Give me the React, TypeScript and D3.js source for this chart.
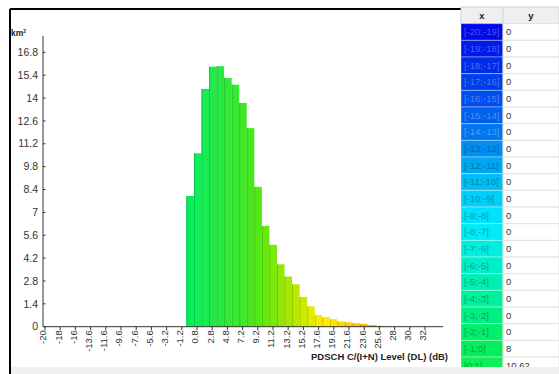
import * as d3 from "d3";

// bins are 1 dB wide, [start; start+1]
const binStarts = d3.range(-20, 33);
const binValues = [
  0, 0, 0, 0, 0, 0, 0, 0, 0, 0, 0, 0, 0, 0, 0, 0, 0, 0, 0,
  8, 10.62, 14.56, 15.92, 15.95, 15.23, 14.82, 13.7, 12.16, 8.56,
  6.17, 5.01, 3.82, 3.07, 2.6, 1.82, 1.25, 0.72, 0.58, 0.46,
  0.32, 0.27, 0.21, 0.17, 0.1, 0.06, 0.04,
  0, 0, 0, 0, 0, 0, 0,
];
const xTickLabels = [
  "-20", "-18", "-16", "-13.6", "-11.6", "-9.6", "-7.6", "-5.6", "-3.2", "-1.2",
  "0.8", "2.8", "4.8", "7.2", "9.2", "11.2", "13.2", "15.2", "17.6", "19.6",
  "21.6", "23.6", "25.6", "28", "30", "32",
];
const yTicks = [0, 1.4, 2.8, 4.2, 5.6, 7, 8.4, 9.8, 11.2, 12.6, 14, 15.4, 16.8];
const yMax = 17.8;
const tableRows = 21;

const colorStops = [-20, -14, -11, -8, -5, -1, 2, 8, 12, 17, 21, 25, 33];
const colorRange = [
  "#0000e6", "#0068ee", "#00b4f4", "#00eaff", "#00f0c0", "#00f060", "#1eea50",
  "#48ea18", "#9ae800", "#ffee00", "#ffcc00", "#ff9900", "#ff3300",
];

const W = 559;
const H = 374;
const M = { left: 43, right: 443, top: 36, axis: 326.7 };
const TABLE = { x: 461, split: 503, right: 559, top: 7, rowH: 16.67 };

const fmt = (v: number) => (v === 0 ? "0" : String(v));

export default function App() {
  const x = d3.scaleLinear().domain([-20, 33]).range([M.left, M.right]);
  const xt = d3.scalePoint<string>().domain(xTickLabels).range([M.left, M.left + 380]);
  const y = d3.scaleLinear().domain([0, yMax]).range([M.axis, M.top]);
  const color = d3
    .scaleLinear<string>()
    .domain(colorStops)
    .range(colorRange)
    .interpolate(d3.interpolateRgb);

  const bars = binStarts.map((s, i) => ({ s, v: binValues[i] })).filter((d) => d.v > 0);
  const rows = binStarts.slice(0, tableRows).map((s, i) => ({ s, v: binValues[i] }));

  // cell text is a shade of the cell colour: lighter on dark blue, darker on bright cells
  const textColor = (c: string) =>
    d3.lab(c).l < 50 ? d3.interpolateRgb(c, "#ffffff")(0.3) : d3.interpolateRgb(c, "#000000")(0.3);

  return (
    <svg
      width={W}
      height={H}
      style={{ position: "absolute", left: 0, top: 0, background: "#fff" }}
      fontFamily="'Liberation Sans', Arial, sans-serif"
    >
      {/* frame */}
      <line x1={10} x2={W} y1={9} y2={9} stroke="#000" strokeWidth={2} />
      <line x1={10} x2={10} y1={9} y2={H} stroke="#000" strokeWidth={2} />

      {/* y axis */}
      <text x={11} y={36} fontSize={8.5} fontWeight="bold" fill="#222">
        km<tspan dy={-3} fontSize={5}>2</tspan>
      </text>
      <line x1={M.left} x2={M.left} y1={M.top} y2={M.axis} stroke="#333" />
      {yTicks.map((t) => (
        <g key={t}>
          <line x1={M.left} x2={M.left + 2.5} y1={y(t)} y2={y(t)} stroke="#333" />
          <text x={38} y={y(t)} dy="0.35em" textAnchor="end" fontSize={10.5} fill="#333">
            {fmt(t)}
          </text>
        </g>
      ))}

      {/* bars */}
      {bars.map((d) => {
        const c = color(d.s + 0.5);
        const x0 = x(d.s);
        const w = x(d.s + 1) - x0;
        return (
          <g key={d.s}>
            <rect x={x0} y={y(d.v)} width={w} height={M.axis - y(d.v)} fill={c} />
            <rect x={x0} y={y(d.v)} width={1} height={M.axis - y(d.v)} fill={d3.rgb(c).darker(0.5).formatHex()} />
          </g>
        );
      })}

      {/* x axis */}
      <line x1={M.left} x2={M.right} y1={M.axis} y2={M.axis} stroke="#333" />
      {xTickLabels.map((t) => {
        const px = xt(t)!;
        return (
          <g key={t}>
            <line x1={px + 2} x2={px + 2} y1={M.axis} y2={M.axis + 3.5} stroke="#333" />
            <text
              transform={`translate(${px},${M.axis + 3.5}) rotate(-90)`}
              dy="0.35em"
              textAnchor="end"
              fontSize={9.5}
              fill="#333"
            >
              {t}
            </text>
          </g>
        );
      })}
      <text x={448} y={360} textAnchor="end" fontSize={9.5} fontWeight="bold" fill="#222">
        PDSCH C/(I+N) Level (DL) (dB)
      </text>

      {/* table */}
      <rect x={TABLE.x} y={TABLE.top} width={TABLE.right - TABLE.x} height={TABLE.rowH} fill="#efefef" stroke="#cfcfcf" />
      <line x1={TABLE.split} x2={TABLE.split} y1={TABLE.top} y2={TABLE.top + TABLE.rowH} stroke="#cfcfcf" />
      <text x={(TABLE.x + TABLE.split) / 2} y={TABLE.top + TABLE.rowH / 2} dy="0.35em" textAnchor="middle" fontSize={9.5} fontWeight="bold" fill="#222">
        x
      </text>
      <text x={(TABLE.split + TABLE.right) / 2} y={TABLE.top + TABLE.rowH / 2} dy="0.35em" textAnchor="middle" fontSize={9.5} fontWeight="bold" fill="#222">
        y
      </text>
      {rows.map((r, i) => {
        const top = TABLE.top + TABLE.rowH * (i + 1);
        const c = color(r.s + 0.5);
        return (
          <g key={r.s}>
            <rect x={TABLE.x} y={top} width={TABLE.split - TABLE.x} height={TABLE.rowH} fill={c} stroke="#fff" strokeOpacity={0.35} />
            <rect x={TABLE.split} y={top} width={TABLE.right - TABLE.split} height={TABLE.rowH} fill="#fff" stroke="#e2e2e2" />
            <text x={TABLE.x + 3} y={top + TABLE.rowH / 2} dy="0.35em" fontSize={9.5} fill={textColor(c)}>
              {`[${r.s};${r.s + 1}]`}
            </text>
            <text x={TABLE.split + 3} y={top + TABLE.rowH / 2} dy="0.35em" fontSize={9.5} fill="#333">
              {fmt(r.v)}
            </text>
          </g>
        );
      })}

      {/* bottom strip */}
      <rect x={11} y={367} width={W - 11} height={H - 367} fill="#f0f0f0" />
    </svg>
  );
}
